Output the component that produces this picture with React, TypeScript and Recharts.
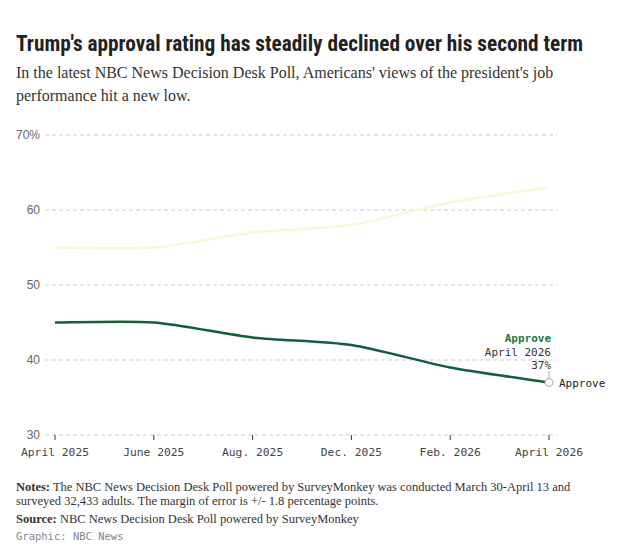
import React from 'react';
import { LineChart, Line, XAxis, YAxis, CartesianGrid } from 'recharts';

const months = ['April 2025', 'June 2025', 'Aug. 2025', 'Dec. 2025', 'Feb. 2026', 'April 2026'];
const approve = [45, 45, 43, 42, 39, 37];
const disapprove = [55, 55, 57, 58, 61, 63];
const yTicks = [30, 40, 50, 60, 70];

const data = months.map((m, i) => ({ month: m, approve: approve[i], disapprove: disapprove[i] }));

const GREEN = '#0f5f37';
const MONO = '"DejaVu Sans Mono", "Liberation Mono", monospace';
const SERIF = '"Liberation Serif", "DejaVu Serif", serif';

// soft cardinal-style curve, gentler than monotone on the flat stretches
const softCurve = (ctx: any) => {
  let pts: number[][] = [];
  const k = 1 / 8;
  return {
    areaStart() {},
    areaEnd() {},
    lineStart() {
      pts = [];
    },
    point(x: number, y: number) {
      pts.push([+x, +y]);
    },
    lineEnd() {
      if (!pts.length) return;
      ctx.moveTo(pts[0][0], pts[0][1]);
      for (let i = 0; i < pts.length - 1; i++) {
        const p0 = pts[i - 1] || pts[i];
        const p1 = pts[i];
        const p2 = pts[i + 1];
        const p3 = pts[i + 2] || p2;
        ctx.bezierCurveTo(
          p1[0] + (p2[0] - p0[0]) * k,
          p1[1] + (p2[1] - p0[1]) * k,
          p2[0] - (p3[0] - p1[0]) * k,
          p2[1] - (p3[1] - p1[1]) * k,
          p2[0],
          p2[1]
        );
      }
    },
  };
};

// last point gets the hollow circle + callout
function ApproveDot(props: any) {
  const { cx, cy, index } = props;
  if (index !== approve.length - 1) return <g key={index} />;
  return (
    <g key={index}>
      <text x={cx + 2} y={cy - 41} textAnchor="end" fontFamily={MONO} fontSize={11} fontWeight="bold" fill="#1d7a46">
        Approve
      </text>
      <text x={cx + 2} y={cy - 27} textAnchor="end" fontFamily={MONO} fontSize={11} fill="#333">
        {months[index]}
      </text>
      <text x={cx + 2} y={cy - 14} textAnchor="end" fontFamily={MONO} fontSize={11} fill="#333">
        {approve[index]}%
      </text>
      <line x1={cx} x2={cx} y1={cy - 11} y2={cy - 4} stroke="#aaa" strokeWidth={1} />
      <circle cx={cx} cy={cy} r={4} fill="#fff" stroke="#aaa" strokeWidth={1} />
      <text x={cx + 10} y={cy + 4} fontFamily={MONO} fontSize={11} fill="#222">
        Approve
      </text>
    </g>
  );
}

const noteStyle: React.CSSProperties = {
  position: 'absolute',
  left: 16,
  fontFamily: SERIF,
  fontSize: 12.5,
  lineHeight: '15px',
  color: '#333',
  whiteSpace: 'nowrap',
};

export default function App() {
  return (
    <div style={{ position: 'absolute', left: 0, top: 0, width: 625, height: 555, background: '#fff' }}>
      <div
        style={{
          position: 'absolute',
          left: 16,
          top: 31,
          fontFamily: '"Liberation Sans Narrow", "Roboto Condensed", Roboto, sans-serif',
          fontWeight: 'bold',
          fontSize: 21.3,
          color: '#222',
          whiteSpace: 'nowrap',
        }}
      >
        Trump's approval rating has steadily declined over his second term
      </div>
      <div
        style={{
          position: 'absolute',
          left: 16,
          top: 61,
          width: 580,
          fontFamily: SERIF,
          fontSize: 16,
          lineHeight: '23px',
          color: '#333',
        }}
      >
        In the latest NBC News Decision Desk Poll, Americans' views of the president's job performance hit a new low.
      </div>

      <div style={{ position: 'absolute', left: 0, top: 120 }}>
        <LineChart width={625} height={350} data={data} margin={{ top: 15, right: 68, bottom: 5, left: 0 }}>
          <CartesianGrid vertical={false} stroke="#ccc" strokeDasharray="4 3" />
          <XAxis
            dataKey="month"
            padding={{ left: 10, right: 8 }}
            axisLine={false}
            tickLine={{ stroke: '#333' }}
            tickSize={5}
            height={30}
            interval={0}
            tick={{ fontFamily: MONO, fontSize: 11.3, fill: '#444' }}
            tickMargin={8}
          />
          <YAxis
            width={45}
            domain={[30, 70]}
            ticks={yTicks}
            axisLine={false}
            tickLine={false}
            tickSize={5}
            tickMargin={0}
            tickFormatter={(v: number) => (v === 70 ? '70%' : String(v))}
            tick={{ fontFamily: '"Liberation Sans", Arial, sans-serif', fontSize: 12, fill: '#666' }}
          />
          <Line
            type={softCurve as any}
            dataKey="disapprove"
            stroke="#fbf5da"
            strokeWidth={2.5}
            dot={false}
            activeDot={false}
            isAnimationActive={false}
          />
          <Line
            type={softCurve as any}
            dataKey="approve"
            stroke={GREEN}
            strokeWidth={2.5}
            dot={ApproveDot}
            activeDot={false}
            isAnimationActive={false}
          />
        </LineChart>
      </div>

      <div style={{ ...noteStyle, top: 480 }}>
        <b>Notes:</b> The NBC News Decision Desk Poll powered by SurveyMonkey was conducted March 30-April 13 and
      </div>
      <div style={{ ...noteStyle, top: 494 }}>
        surveyed 32,433 adults. The margin of error is +/- 1.8 percentage points.
      </div>
      <div style={{ ...noteStyle, top: 512 }}>
        <b>Source:</b> NBC News Decision Desk Poll powered by SurveyMonkey
      </div>
      <div style={{ position: 'absolute', left: 16, top: 530, fontFamily: MONO, fontSize: 10.5, color: '#888', whiteSpace: 'nowrap' }}>
        Graphic: NBC News
      </div>
    </div>
  );
}
